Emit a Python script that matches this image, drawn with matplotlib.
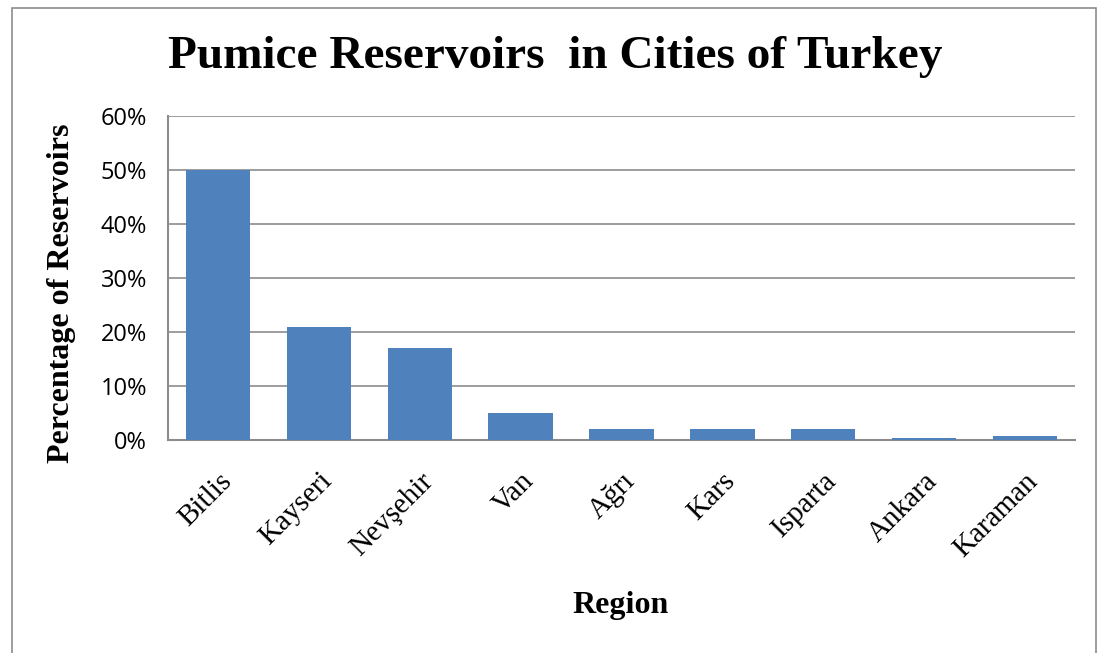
import matplotlib.pyplot as plt
from matplotlib.patches import Rectangle
from matplotlib.ticker import PercentFormatter

regions = ['Bitlis', 'Kayseri', 'Nevşehir', 'Van', 'Ağrı', 'Kars', 'Isparta', 'Ankara', 'Karaman']
share = [50, 21, 17, 5, 2, 2, 2, 0.4, 0.7]

fig = plt.figure(figsize=(11.04, 6.53), dpi=100)
ax = fig.add_axes([0.152, 0.326, 0.822, 0.496])

# outer chart border
fig.patches.append(Rectangle((0.011, -0.01), 0.982, 0.998, transform=fig.transFigure,
                             fill=False, edgecolor='#8c8c8c', lw=1.2))

ax.bar(range(len(regions)), share, width=0.64, color='#4f81bd', zorder=3)
ax.set_xlim(-0.5, len(regions) - 0.5)
ax.set_ylim(0, 60)
ax.set_yticks(range(0, 61, 10))
ax.yaxis.set_major_formatter(PercentFormatter(decimals=0))
ax.grid(axis='y', color='#8c8c8c', lw=1.2, zorder=0)
for s in ['top', 'right']:
    ax.spines[s].set_visible(False)
for s in ['left', 'bottom']:
    ax.spines[s].set_color('#8c8c8c')
    ax.spines[s].set_linewidth(1.5)
ax.tick_params(length=0)
ax.tick_params(axis='y', labelsize=17, pad=15)
for lab in ax.get_yticklabels():
    lab.set_family('Open Sans')

ax.set_xticks(range(len(regions)))
ax.set_xticklabels(regions, rotation=45, ha='right', rotation_mode='anchor',
                   family='Liberation Serif', fontsize=21)
ax.tick_params(axis='x', pad=20)

fig.text(0.503, 0.912, 'Pumice Reservoirs  in Cities of Turkey', ha='center', va='center',
         family='Liberation Serif', weight='bold', fontsize=34)
fig.text(0.056, 0.551, 'Percentage of Reservoirs', rotation=90, ha='center', va='center',
         family='Liberation Serif', weight='bold', fontsize=23)
fig.text(0.562, 0.073, 'Region', ha='center', va='center',
         family='Liberation Serif', weight='bold', fontsize=23)

fig.savefig('out.png', dpi=100)
